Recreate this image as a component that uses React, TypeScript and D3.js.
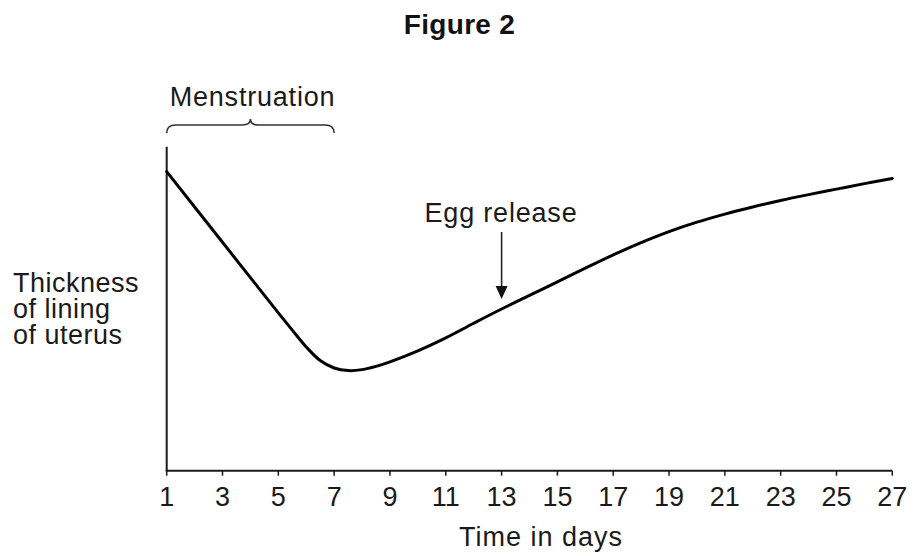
import React from "react";
import * as d3 from "d3";

const days: number[] = [1, 3, 5, 5.5, 6, 6.5, 7, 7.5, 8, 8.5, 9, 10, 11, 12, 13, 14, 15, 16, 17, 18, 19, 20, 21, 22, 23, 24, 25, 26, 27];
const thickness: number[] = [9.23, 7.05, 4.87, 4.34, 3.82, 3.4, 3.17, 3.09, 3.12, 3.22, 3.36, 3.7, 4.1, 4.55, 4.99, 5.41, 5.83, 6.25, 6.66, 7.04, 7.38, 7.67, 7.92, 8.14, 8.34, 8.52, 8.69, 8.86, 9.02];
const tickDays: number[] = [1, 3, 5, 7, 9, 11, 13, 15, 17, 19, 21, 23, 25, 27];
const yLabelLines: string[] = ["Thickness", "of lining", "of uterus"];
const title = "Figure 2";
const xTitle = "Time in days";
const menstruationStart = 1;
const menstruationEnd = 7;
const eggReleaseDay = 13;

const FONT = "'Liberation Sans', Arial, Helvetica, sans-serif";
const LS = 0.8;

export default function App() {
  const x = d3.scaleLinear().domain([1, 27]).range([166.7, 892.3]);
  const y = d3.scaleLinear().domain([0, 10]).range([470.7, 146.7]);

  const pts = days.map((d, i) => [d, thickness[i]] as [number, number]);
  const line = d3
    .line<[number, number]>()
    .x((p) => x(p[0]))
    .y((p) => y(p[1]))
    .curve(d3.curveCatmullRom.alpha(0.5));

  const bx0 = x(menstruationStart);
  const bx1 = x(menstruationEnd);
  const bm = (bx0 + bx1) / 2;
  const by = 125;
  const brace = `M${bx0},133 Q${bx0},${by} ${bx0 + 9},${by} L${bm - 8},${by} Q${bm},${by} ${bm},${by - 6} Q${bm},${by} ${bm + 8},${by} L${bx1 - 9},${by} Q${bx1},${by} ${bx1},133`;

  const ax = x(eggReleaseDay);

  return (
    <svg
      width={914}
      height={556}
      style={{ position: "absolute", left: 0, top: 0, background: "#fff" }}
      fontFamily={FONT}
    >
      <rect x={0} y={0} width={914} height={556} fill="#fff" />
      <text x={459.5} y={34} textAnchor="middle" fontSize={28} fontWeight="bold" fill="#111" letterSpacing={0.3}>
        {title}
      </text>

      {/* axes */}
      <line x1={x(1)} x2={x(1)} y1={y(10)} y2={y(0)} stroke="#1a1a1a" strokeWidth={2} />
      <line x1={x(1) - 1} x2={x(27)} y1={y(0)} y2={y(0)} stroke="#1a1a1a" strokeWidth={2} />
      {tickDays.map((t) => (
        <g key={t}>
          <line x1={x(t)} x2={x(t)} y1={y(0)} y2={y(0) + 5} stroke="#1a1a1a" strokeWidth={1.5} />
          <text x={x(t)} y={506} textAnchor="middle" fontSize={27} fill="#1a1a1a">
            {t}
          </text>
        </g>
      ))}
      <text x={541} y={546} textAnchor="middle" fontSize={27} fill="#1a1a1a" letterSpacing={1}>
        {xTitle}
      </text>

      {yLabelLines.map((l, i) => (
        <text key={l} x={13} y={292 + i * 26} fontSize={27} fill="#1a1a1a" letterSpacing={0.5}>
          {l}
        </text>
      ))}

      {/* curve */}
      <path d={line(pts) || ""} fill="none" stroke="#000" strokeWidth={3} strokeLinejoin="round" strokeLinecap="round" />

      {/* menstruation brace */}
      <path d={brace} fill="none" stroke="#333" strokeWidth={1.6} />
      <text x={252.5} y={106} textAnchor="middle" fontSize={27} fill="#1a1a1a" letterSpacing={LS}>
        Menstruation
      </text>

      {/* egg release arrow */}
      <text x={501} y={222} textAnchor="middle" fontSize={27} fill="#1a1a1a" letterSpacing={LS}>
        Egg release
      </text>
      <line x1={ax} x2={ax} y1={232} y2={290} stroke="#222" strokeWidth={1.6} />
      <path d={`M${ax - 6},286 L${ax + 6},286 L${ax},299 Z`} fill="#111" />
    </svg>
  );
}
